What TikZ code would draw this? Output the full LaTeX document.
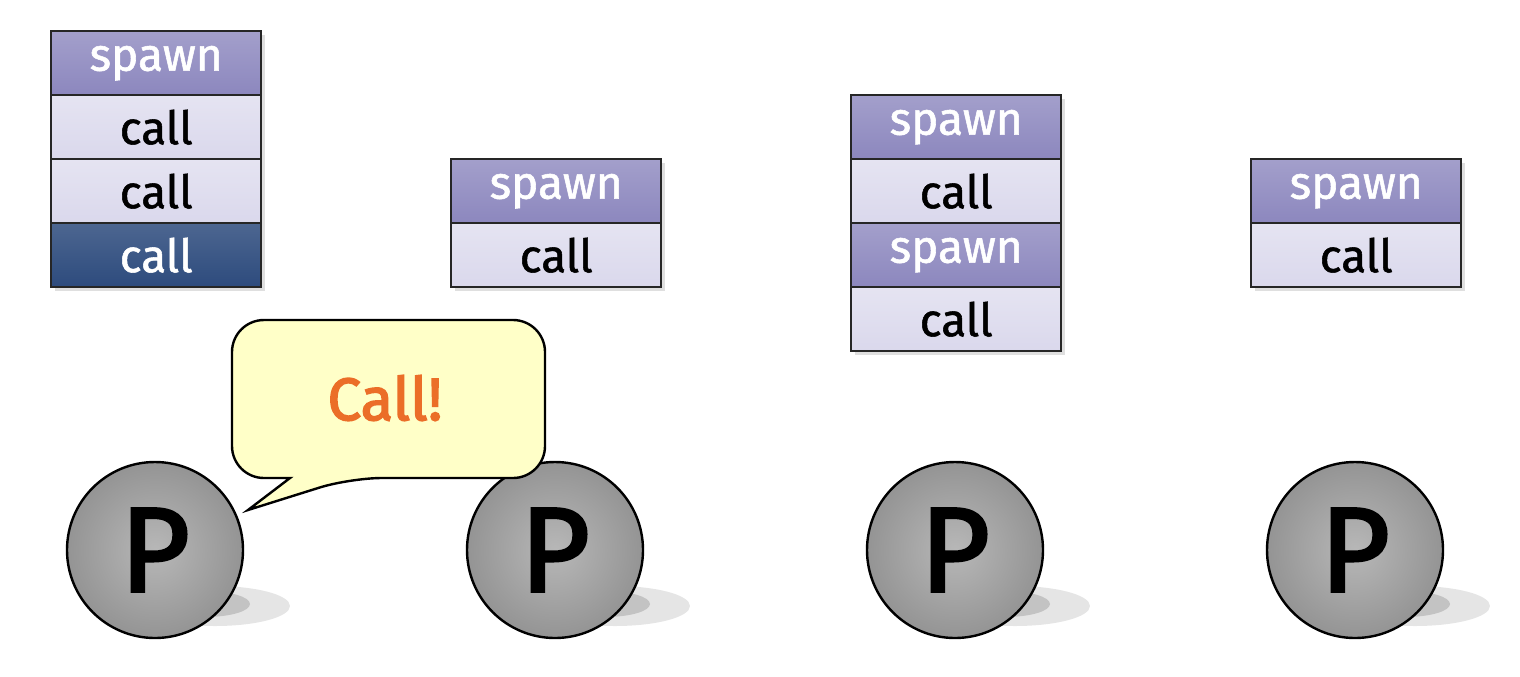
\documentclass[tikz,border=0pt]{standalone}
\usepackage{fontspec}
\setsansfont{Fira Sans}
\newfontfamily\medfont{Fira Sans}[FakeBold=1.2]
\newfontfamily\pfont{Fira Sans}[FakeBold=2.5]
\usetikzlibrary{shadows}
\definecolor{spawnc}{RGB}{140,135,190}
\definecolor{callc}{RGB}{218,216,236}
\definecolor{darkc}{RGB}{45,75,125}
\definecolor{bubc}{RGB}{255,255,200}
\definecolor{orangec}{RGB}{235,110,40}
\tikzset{
  cell/.style={draw=black!85,line width=1.2pt,minimum width=105pt,minimum height=32pt,inner sep=0pt,font=\medfont\fontsize{23}{23}\selectfont,anchor=north west,drop shadow={opacity=0.25,shadow xshift=2pt,shadow yshift=-2pt}},
  spawnbox/.style={cell,top color=spawnc!80,bottom color=spawnc,text=white},
  callbox/.style={cell,top color=callc!70,bottom color=callc,text=black},
  darkbox/.style={cell,top color=darkc!85,bottom color=darkc,text=white},
  ball/.style={circle,draw=black,line width=1.2pt,minimum size=88pt,inner sep=0pt,inner color=black!28,outer color=black!42},
  plabel/.style={font=\pfont\fontsize{60}{60}\selectfont,text=black},
}
\begin{document}
\begin{tikzpicture}[x=0.5pt,y=-0.5pt]
\useasboundingbox (0,0) rectangle (1520,676);
\node[spawnbox] (a1) at (50,30) {spawn};
\node[callbox] (a2) at (50,94) {call};
\node[callbox] (a3) at (50,158) {call};
\node[darkbox] (a4) at (50,222) {call};
\node[spawnbox] (b1) at (450,158) {spawn};
\node[callbox] (b2) at (450,222) {call};
\node[spawnbox] (c1) at (850,94) {spawn};
\node[callbox] (c2) at (850,158) {call};
\node[spawnbox] (c3) at (850,222) {spawn};
\node[callbox] (c4) at (850,286) {call};
\node[spawnbox] (d1) at (1250,158) {spawn};
\node[callbox] (d2) at (1250,222) {call};
\foreach \x/\n in {155/p1,555/p2,955/p3,1355/p4}{
  \fill[black,opacity=0.10] (\x+60,606) ellipse (75 and 20);
  \fill[black,opacity=0.15] (\x+50,604) ellipse (45 and 13);
  \node[ball] (\n) at (\x,550) {};
  \node[plabel] at (\n) {P};
}
\draw[line width=1.2pt,fill=bubc,rounded corners=16pt]
  (232,320) -- (545,320) -- (545,478) -- (350,478) [sharp corners]-- (248,510) -- (290,478) [rounded corners=16pt] -- (232,478) -- cycle;
\node[font=\pfont\fontsize{30}{30}\selectfont,text=orangec] (callt) at (385,398) {Call!};
\end{tikzpicture}
\end{document}
